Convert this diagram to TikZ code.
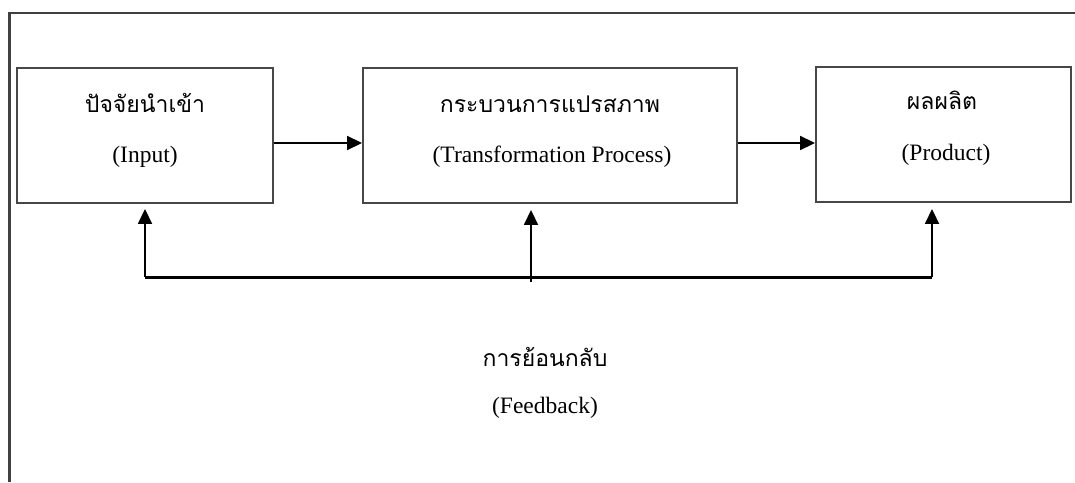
\documentclass[tikz,border=0pt]{standalone}
\usepackage{fontspec}
\setmainfont{Liberation Serif}
\newfontfamily\thaifont[Script=Thai]{Loma}
\usetikzlibrary{arrows.meta}
\tikzset{
  box/.style={draw=black!72, line width=1.9pt, minimum width=#1, minimum height=135pt, inner sep=0pt},
  thtxt/.style={font=\thaifont\fontsize{23}{26}\selectfont, anchor=base, inner sep=0pt},
  entxt/.style={font=\fontsize{23.5}{26}\selectfont, anchor=base, inner sep=0pt},
  arr/.style={line width=1.8pt, -{Triangle[length=15pt,width=14pt]}},
  frame/.style={draw=black!75, line width=2.2pt}
}
\begin{document}
\begin{tikzpicture}[x=1pt,y=-1pt]
\useasboundingbox (0,0) rectangle (1075,482);
% frame
\draw[frame] (9.5,482) -- (9.5,13) -- (1075,13);
% boxes
\node[box=256pt] (in) at (145,135.5) {};
\node[box=374pt] (tp) at (550,135.5) {};
\node[box=255pt] (pr) at (943.5,134.5) {};
% texts
\node[thtxt] (inth) at (145,112) {ปัจจัยนำเข้า};
\node[entxt] (inen) at (145,162) {(Input)};
\node[thtxt] (tpth) at (550,112) {กระบวนการแปรสภาพ};
\node[entxt] (tpen) at (552,162) {(Transformation Process)};
\node[thtxt] (prth) at (942,109) {ผลผลิต};
\node[entxt] (pren) at (946,160) {(Product)};
\node[thtxt] (fbth) at (545,366) {การย้อนกลับ};
\node[entxt] (fben) at (545,413) {(Feedback)};
% forward arrows
\draw[arr] (in.east |- 0,143) -- (tp.west |- 0,143);
\draw[arr] (tp.east |- 0,143) -- (pr.west |- 0,143);
% feedback
\coordinate (fl) at (145,277);
\coordinate (fm) at (531,277);
\coordinate (fr) at (932,277);
\coordinate (fmb) at (531,282);
\draw[line width=3pt] (fl) -- (fr);
\draw[arr, shorten >=5pt] (fl) -- (fl |- in.south);
\draw[arr, shorten >=6pt] (fmb) -- (fm |- tp.south);
\draw[arr, shorten >=6pt] (fr) -- (fr |- pr.south);
\end{tikzpicture}
\end{document}
